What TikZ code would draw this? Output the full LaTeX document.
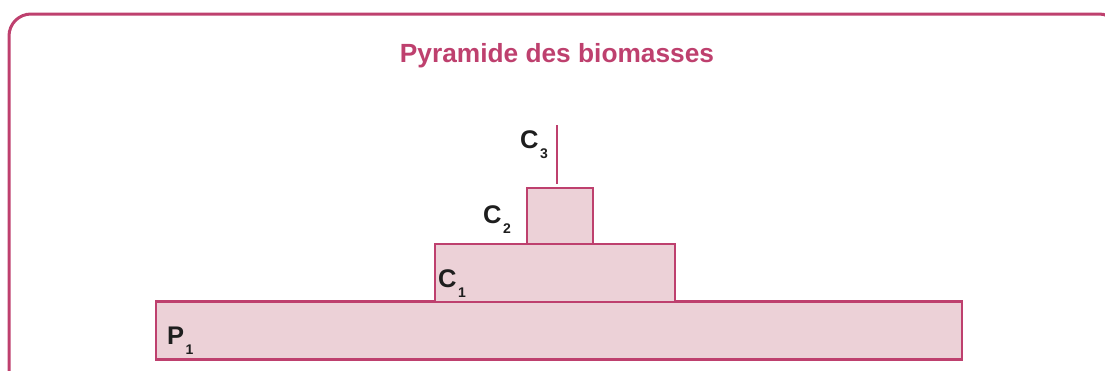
\documentclass[tikz,border=0pt]{standalone}
\usepackage{fontspec}
\setmainfont{Liberation Sans}
\definecolor{mag}{RGB}{190,64,110}
\definecolor{pinkfill}{RGB}{236,209,215}
\definecolor{ink}{RGB}{30,30,30}
\tikzset{
  level/.style={draw=mag, fill=pinkfill, line width=2.7pt, inner sep=0pt},
  lab/.style={anchor=base west, inner sep=0pt, text=ink, font=\fontsize{25.5}{25.5}\selectfont\bfseries},
}
\newcommand{\lsub}[1]{\kern1.5pt\raisebox{-10pt}{\fontsize{14}{14}\selectfont #1}}
\begin{document}
\begin{tikzpicture}[x=1pt,y=-1pt]
\useasboundingbox (0,0) rectangle (1105,370);
\clip (0,0) rectangle (1105,370);
\draw[mag, line width=3pt, rounded corners=22pt] (9,14) rectangle (1121,420);
\node[anchor=base, inner sep=0pt, text=mag, font=\fontsize{26.3}{26.3}\selectfont\bfseries] (title) at (557,62) {Pyramide des biomasses};
\node[level, minimum width=806pt, minimum height=58pt] (P1) at (559,330.5) {};
\node[level, minimum width=240pt, minimum height=58pt] (C1) at (555,273) {};
\node[level, minimum width=66pt, minimum height=56pt] (C2) at (560,216) {};
\coordinate (C3top) at (557,125);
\coordinate (C3bot) at (557,184);
\draw[mag, line width=2pt] (C3bot) -- (C3top);
\node[lab] (lC3) at (520,148) {C\lsub{3}};
\node[lab] (lC2) at (483,223) {C\lsub{2}};
\node[lab] (lC1) at (438,287) {C\lsub{1}};
\node[lab] (lP1) at (167,344) {P\lsub{1}};
\end{tikzpicture}
\end{document}
